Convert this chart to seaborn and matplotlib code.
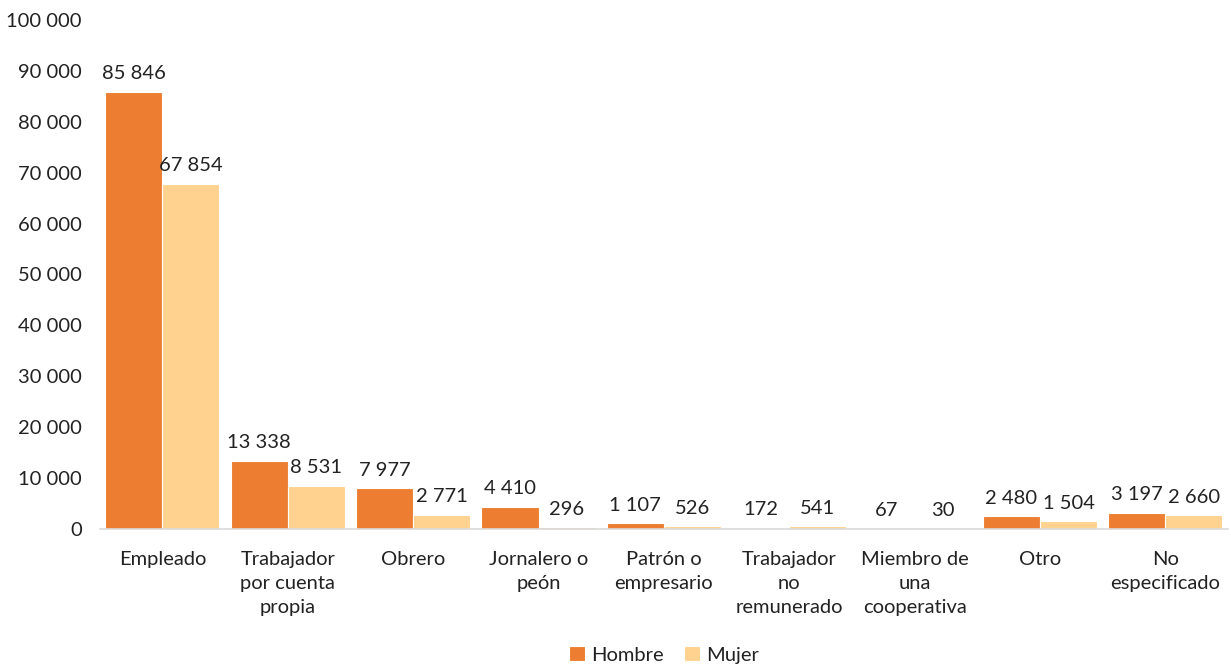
import matplotlib
matplotlib.use("Agg")
import matplotlib.pyplot as plt
import seaborn as sns
import pandas as pd

categories = ["Empleado", "Trabajador\npor cuenta\npropia", "Obrero", "Jornalero o\npeón",
              "Patrón o\nempresario", "Trabajador\nno\nremunerado", "Miembro de\nuna\ncooperativa",
              "Otro", "No\nespecificado"]
hombre = [85846, 13338, 7977, 4410, 1107, 172, 67, 2480, 3197]
mujer = [67854, 8531, 2771, 296, 526, 541, 30, 1504, 2660]
series = ["Hombre", "Mujer"]
colors = ["#ED7D31", "#FFD290"]
yticks = list(range(0, 100001, 10000))

df = pd.DataFrame({
    "cat": categories * 2,
    "val": hombre + mujer,
    "sexo": ["Hombre"] * len(categories) + ["Mujer"] * len(categories),
})

sns.set_theme(style="white")
plt.rcParams["font.family"] = ["Lato", "DejaVu Sans"]
FS = 14.5

fig = plt.figure(figsize=(12.31, 6.66), dpi=100)
ax = fig.add_axes([0.081, 0.2057, 0.9166, 0.7643])
sns.barplot(data=df, x="cat", y="val", hue="sexo", hue_order=series,
            palette=colors, ax=ax, width=0.91, saturation=1,
            edgecolor="white", linewidth=0.8)

def fmt(v):
    return f"{v:,}".replace(",", " ")

for cont in ax.containers:
    ax.bar_label(cont, labels=[fmt(int(v)) for v in cont.datavalues],
                 padding=7, fontsize=FS, color="#222222")

ax.set_ylim(0, 100000)
ax.set_yticks(yticks)
ax.set_yticklabels([fmt(v) for v in yticks], fontsize=FS, color="#222222")
ax.set_xlim(-0.5, len(categories) - 0.5)
ax.tick_params(axis="x", labelsize=FS, colors="#222222", length=0, pad=16)
ax.tick_params(axis="y", length=0, pad=13)
for lbl in ax.get_xticklabels():
    lbl.set_linespacing(1.5)
ax.set_xlabel("")
ax.set_ylabel("")
for s in ["top", "right", "left"]:
    ax.spines[s].set_visible(False)
ax.spines["bottom"].set_color("#D9D9D9")
ax.spines["bottom"].set_linewidth(1.2)

leg = ax.legend(loc="center", bbox_to_anchor=(0.5, -0.247), ncol=2, frameon=False,
                fontsize=FS, handlelength=0.8, handleheight=0.8, handletextpad=0.3,
                columnspacing=1.0, borderaxespad=0)
for t in leg.get_texts():
    t.set_color("#222222")

fig.savefig("out.png", dpi=100)
